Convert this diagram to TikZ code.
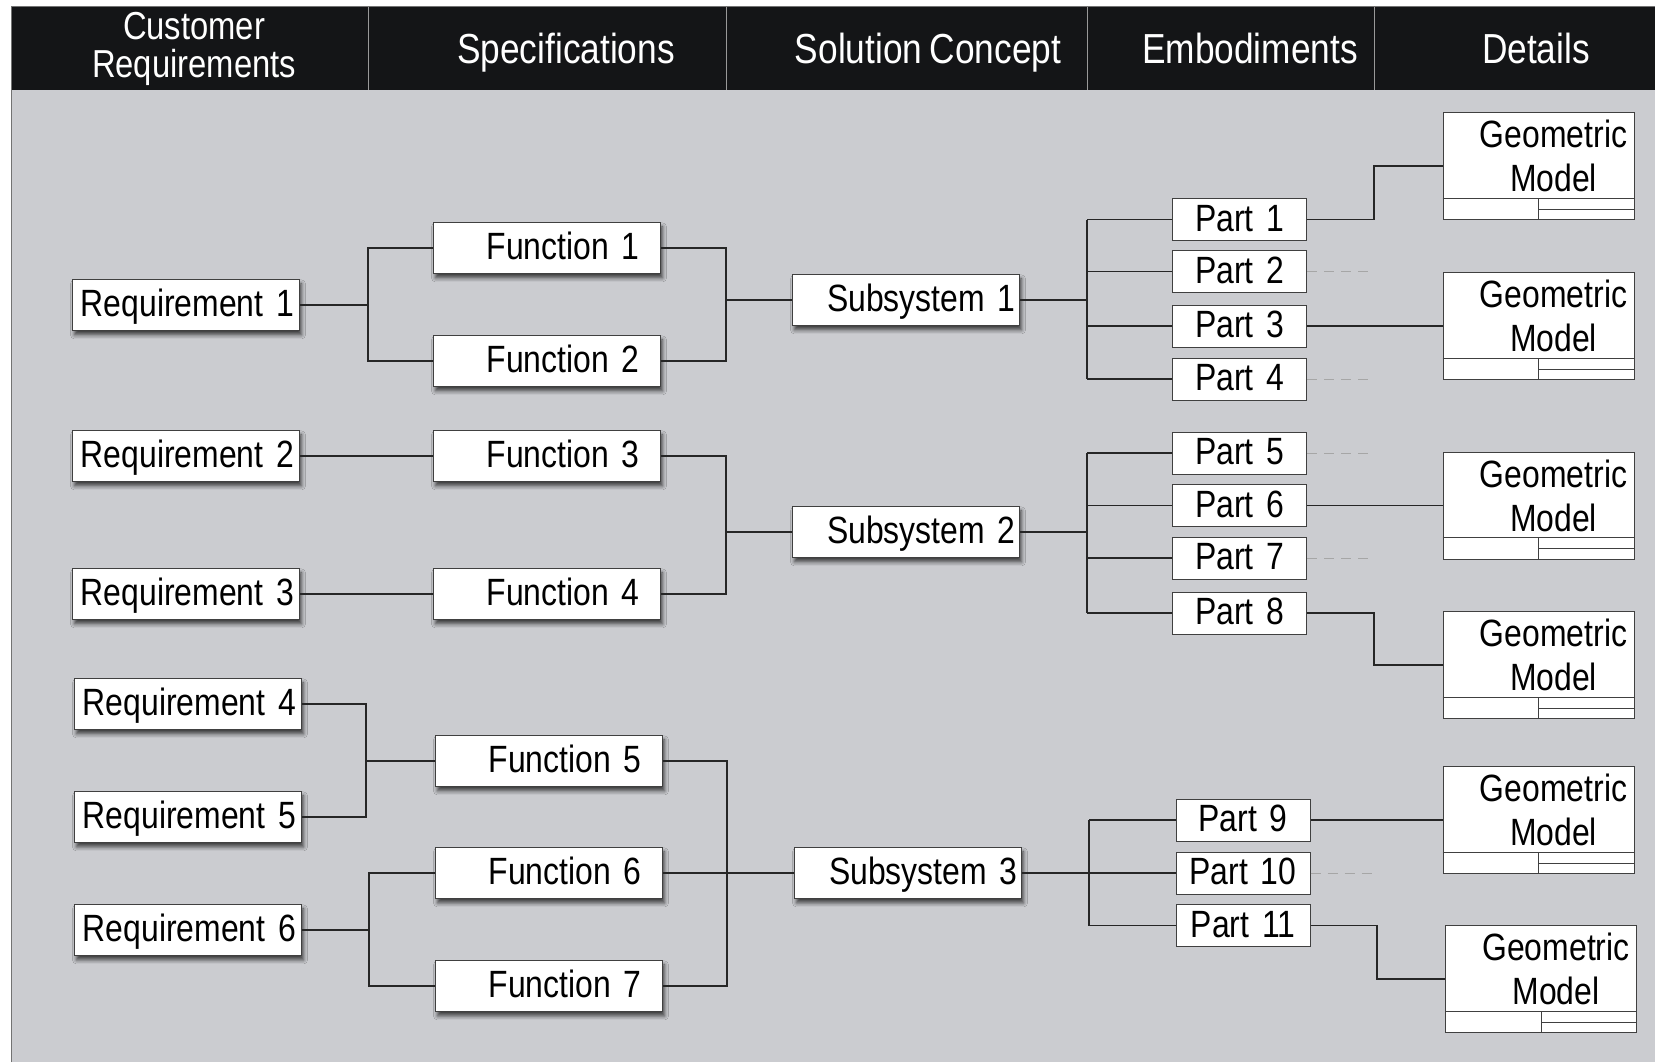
\documentclass[tikz,border=0pt]{standalone}
\usepackage{fontspec}
\setmainfont{Liberation Sans}[FakeStretch=0.84, WordSpace=0.75]
\usetikzlibrary{calc, shadows.blur}
\definecolor{panelgray}{RGB}{203,204,208}
\definecolor{headblack}{RGB}{20,21,23}

\begin{document}
\begin{tikzpicture}[x=0.5pt, y=-0.5pt,
    box/.style={rectangle, draw=black!75, fill=white, line width=0.5pt, inner ysep=0pt, minimum height=25.5pt, text height=13.6pt, text depth=2pt, font=\fontsize{19pt}{22pt}\selectfont, align=right},
    shadowed/.style={blur shadow={shadow xshift=1pt, shadow yshift=-2.2pt, shadow blur radius=2pt, shadow opacity=70}},
    req/.style={box, shadowed, text width=108pt, inner xsep=2.75pt},
    func/.style={box, shadowed, text width=92.5pt, inner xsep=10.5pt},
    subsys/.style={box, shadowed, text width=109.5pt, inner xsep=2pt},
    part/.style={box, minimum height=21pt, text width=67pt, inner xsep=0pt, align=center},
    model/.style={rectangle, draw=black!75, fill=white, line width=0.5pt, minimum width=95.5pt, minimum height=53.5pt, inner sep=0pt},
    modeltext/.style={font=\fontsize{19pt}{22pt}\selectfont, align=center, inner sep=0pt},
    head/.style={text=white, font=\fontsize{21pt}{17pt}\selectfont, align=center, inner sep=0pt},
    link/.style={line width=0.75pt, draw=black!85},
    stub/.style={line width=0.5pt, draw=black!35, dash pattern=on 5pt off 3.5pt}
]
    \useasboundingbox (0,0) rectangle (1655,1062);

    % panel and header bar
    \fill[panelgray] (11.7,90) rectangle (1655,1062);
    \fill[headblack] (11.7,6.7) rectangle (1655,90);
    \draw[black!55, line width=0.6pt] (11.7,1062) -- (11.7,6.7) -- (1655,6.7);
    \foreach \x in {368,726,1087,1374}
        \draw[black!40, line width=0.4pt] (\x,6.7) -- (\x,90);

    \node[head, font=\fontsize{19.5pt}{19pt}\selectfont] (hcr) at (194,49) {Customer\\Requirements};
    \node[head, anchor=base] (hsp) at (566,63) {Specifications};
    \node[head, anchor=base] (hsc) at (928,63) {Solution Concept};
    \node[head, anchor=base] (hem) at (1250,63) {Embodiments};
    \node[head, anchor=base] (hde) at (1536,63) {Details};

    % customer requirements
    \node[req] (r1) at (186,305) {Requirement 1};
    \node[req] (r2) at (186,456) {Requirement 2};
    \node[req] (r3) at (186,594) {Requirement 3};
    \node[req] (r4) at (188,704) {Requirement 4};
    \node[req] (r5) at (188,817) {Requirement 5};
    \node[req] (r6) at (188,930) {Requirement 6};

    % specifications
    \node[func] (f1) at (547,248) {Function 1};
    \node[func] (f2) at (547,361) {Function 2};
    \node[func] (f3) at (547,456) {Function 3};
    \node[func] (f4) at (547,594) {Function 4};
    \node[func] (f5) at (549,761) {Function 5};
    \node[func] (f6) at (549,873) {Function 6};
    \node[func] (f7) at (549,986) {Function 7};

    % solution concept
    \node[subsys] (s1) at (906,300) {Subsystem 1};
    \node[subsys] (s2) at (906,532) {Subsystem 2};
    \node[subsys] (s3) at (908,873) {Subsystem 3};

    % embodiments
    \foreach \n/\y in {1/219.5, 2/271.5, 3/326, 4/379, 5/453, 6/505.5, 7/558, 8/613}
        \node[part] (p\n) at (1239.7,\y) {Part \n};
    \foreach \n/\y in {9/820, 10/873, 11/925.5}
        \node[part] (p\n) at (1243,\y) {Part \n};

    % details
    \foreach \n/\x/\y in {1/1538.5/166, 2/1538.5/326, 3/1538.5/505.5, 4/1538.5/665, 5/1538.5/820, 6/1541/979} {
        \node[model] (g\n) at (\x,\y) {};
        \node[modeltext] (gt\n) at ($(g\n.north)+(15,44)$) {Geometric\\Model};
        \draw[line width=0.5pt, black!75] ($(g\n.south west)+(0,-22)$) -- ($(g\n.south east)+(0,-22)$)
            ($(g\n.south)+(0,-22)$) -- (g\n.south)
            ($(g\n.south)+(0,-11)$) -- ($(g\n.south east)+(0,-11)$);
    }

    % requirements -> functions
    \coordinate (ra) at (368,0);
    \draw[link] (r1.east) -- (r1.east -| ra);
    \draw[link] (f1.west) -- (f1.west -| ra) -- (f2.west -| ra) -- (f2.west);
    \draw[link] (r2.east) -- (f3.west);
    \draw[link] (r3.east) -- (f4.west);
    \coordinate (rb) at (366,0);
    \draw[link] (r4.east) -- (r4.east -| rb) -- (r5.east -| rb) -- (r5.east);
    \draw[link] (rb |- f5.west) -- (f5.west);
    \coordinate (rc) at (369,0);
    \draw[link] (r6.east) -- (r6.east -| rc);
    \draw[link] (f6.west) -- (f6.west -| rc) -- (f7.west -| rc) -- (f7.west);

    % functions -> subsystems
    \coordinate (fa) at (726,0);
    \draw[link] (f1.east) -- (f1.east -| fa) -- (f2.east -| fa) -- (f2.east);
    \draw[link] (fa |- s1.west) -- (s1.west);
    \draw[link] (f3.east) -- (f3.east -| fa) -- (f4.east -| fa) -- (f4.east);
    \draw[link] (fa |- s2.west) -- (s2.west);
    \coordinate (fb) at (727,0);
    \draw[link] (f5.east) -- (f5.east -| fb) -- (f7.east -| fb) -- (f7.east);
    \draw[link] (f6.east) -- (s3.west);

    % subsystems -> parts
    \coordinate (sa) at (1087,0);
    \draw[link] (s1.east) -- (s1.east -| sa);
    \draw[link] (p1.west -| sa) -- (p4.west -| sa);
    \draw[link] (s2.east) -- (s2.east -| sa);
    \draw[link] (p5.west -| sa) -- (p8.west -| sa);
    \foreach \n in {1,...,8}
        \draw[link] (p\n.west -| sa) -- (p\n.west);
    \coordinate (sb) at (1089,0);
    \draw[link] (s3.east) -- (s3.east -| sb);
    \draw[link] (p9.west -| sb) -- (p11.west -| sb);
    \foreach \n in {9,10,11}
        \draw[link] (p\n.west -| sb) -- (p\n.west);

    % parts -> geometric models
    \coordinate (pa) at (1374,0);
    \draw[link] (p1.east) -- (p1.east -| pa) |- (g1.west);
    \draw[link] (p3.east) -- (g2.west);
    \draw[link] (p6.east) -- (g3.west);
    \draw[link] (p8.east) -- (p8.east -| pa) |- (g4.west);
    \draw[link] (p9.east) -- (g5.west);
    \coordinate (pb) at (1377,0);
    \draw[link] (p11.east) -- (p11.east -| pb) |- (g6.west);
    \foreach \n in {2,4,5,7,10}
        \draw[stub] (p\n.east) -- (p\n.east -| pa);
\end{tikzpicture}
\end{document}
